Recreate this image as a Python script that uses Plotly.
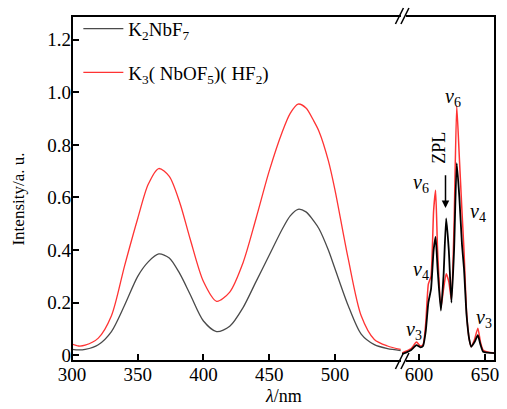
import plotly.graph_objects as go

# ---- data ----
nm_left = [300, 305, 310, 320, 330, 340, 350, 358, 366, 374, 382, 390, 400, 410, 420, 430,
           440, 450, 460, 466, 472, 478, 484, 488, 495, 500, 510, 520, 530, 540, 550]
k2nbf7_left = [0.022, 0.02, 0.022, 0.04, 0.09, 0.19, 0.30, 0.355, 0.385, 0.37, 0.31, 0.23, 0.13,
               0.09, 0.11, 0.18, 0.28, 0.38, 0.48, 0.53, 0.555, 0.545, 0.51, 0.48, 0.40, 0.33,
               0.19, 0.08, 0.04, 0.025, 0.018]
k3_left = [0.042, 0.035, 0.038, 0.065, 0.15, 0.34, 0.52, 0.65, 0.71, 0.68, 0.58, 0.44, 0.28,
           0.205, 0.24, 0.35, 0.52, 0.70, 0.85, 0.92, 0.955, 0.94, 0.89, 0.85, 0.74, 0.63,
           0.37, 0.15, 0.06, 0.035, 0.022]

nm_right = [587, 590, 594, 598, 601, 603, 605, 607, 609, 611, 612.5, 614, 616.5, 618.5, 620.5,
            622.5, 624.5, 626.5, 628.5, 630.5, 632.5, 634, 636, 638, 639.5, 642, 644.5, 646.5,
            648.5, 652, 657.5]
k2nbf7_right = [0.005, 0.01, 0.02, 0.038, 0.03, 0.035, 0.09, 0.2, 0.25, 0.4, 0.45, 0.33, 0.17,
                0.3, 0.52, 0.4, 0.2, 0.4, 0.73, 0.6, 0.42, 0.33, 0.15, 0.06, 0.032, 0.05,
                0.076, 0.04, 0.013, 0.01, 0.008]
k3_right = [0.008, 0.015, 0.025, 0.05, 0.035, 0.04, 0.12, 0.27, 0.3, 0.55, 0.627, 0.4, 0.18,
            0.25, 0.31, 0.28, 0.21, 0.5, 0.95, 0.75, 0.545, 0.4, 0.16, 0.06, 0.032, 0.06,
            0.103, 0.05, 0.02, 0.012, 0.008]

y_ticks = [0, 0.2, 0.4, 0.6, 0.8, 1.0, 1.2]
y_ticktext = ["0", "0.2", "0.4", "0.6", "0.8", "1.0", "1.2"]
x_ticks_left = [300, 350, 400, 450, 500]
x_ticks_right = [600, 650]

GRAY = "#4a4a4a"
RED = "#ff3333"
FONT = "Liberation Serif"

fig = go.Figure()
fig.add_trace(go.Scatter(x=nm_left, y=k2nbf7_left, mode="lines", line=dict(color=GRAY, width=1.3, shape="spline", smoothing=0.8),
                         name="K<sub>2</sub>NbF<sub>7</sub>", legendgroup="a", xaxis="x", yaxis="y"))
fig.add_trace(go.Scatter(x=nm_left, y=k3_left, mode="lines", line=dict(color=RED, width=1.3, shape="spline", smoothing=0.8),
                         name="K<sub>3</sub>( NbOF<sub>5</sub>)( HF<sub>2</sub>)", legendgroup="b", xaxis="x", yaxis="y"))
fig.add_trace(go.Scatter(x=nm_right, y=k3_right, mode="lines", line=dict(color=RED, width=1.5, shape="spline", smoothing=0.5),
                         showlegend=False, xaxis="x2", yaxis="y"))
fig.add_trace(go.Scatter(x=nm_right, y=k2nbf7_right, mode="lines", line=dict(color="#000000", width=1.8, shape="spline", smoothing=0.5),
                         showlegend=False, xaxis="x2", yaxis="y"))

split = 0.78
tickfont = dict(family=FONT, size=19, color="black")
fig.update_layout(
    width=507, height=409,
    margin=dict(l=72, r=8, t=16, b=48),
    paper_bgcolor="white", plot_bgcolor="white",
    showlegend=True,
    legend=dict(x=0.015, y=1.018, xanchor="left", yanchor="top", bgcolor="rgba(0,0,0,0)",
                font=dict(family=FONT, size=19, color="black"), tracegroupgap=16, itemwidth=40),
    xaxis=dict(domain=[0, split], range=[300, 551], tickvals=x_ticks_left, ticks="inside", ticklen=7,
               tickwidth=2, tickcolor="black", tickfont=tickfont, showgrid=False, zeroline=False,
               showline=False, anchor="y"),
    xaxis2=dict(domain=[split, 1], range=[587, 657.5], tickvals=x_ticks_right, ticks="inside", ticklen=7,
                tickwidth=2, tickcolor="black", tickfont=tickfont, showgrid=False, zeroline=False,
                showline=False, anchor="y"),
    yaxis=dict(range=[-0.022, 1.29], tickvals=y_ticks, ticktext=y_ticktext, ticks="inside", ticklen=7,
               tickwidth=2, tickcolor="black", tickfont=tickfont, showgrid=False, zeroline=False,
               showline=False, anchor="x"),
)

shapes = [dict(type="rect", xref="paper", yref="paper", x0=0, x1=1, y0=0, y1=1,
               line=dict(color="black", width=2), fillcolor="rgba(0,0,0,0)")]
for yanc in (0, 1):
    shapes.append(dict(type="rect", xref="paper", yref="paper", xsizemode="pixel", ysizemode="pixel",
                       xanchor=split, yanchor=yanc, x0=-1, x1=4, y0=-2, y1=2,
                       line=dict(width=0), fillcolor="white"))
    for dx in (-2.5, 3):
        shapes.append(dict(type="line", xref="paper", yref="paper", xsizemode="pixel", ysizemode="pixel",
                           xanchor=split, yanchor=yanc, x0=dx - 4, x1=dx + 4, y0=-8, y1=8,
                           line=dict(color="black", width=1.6)))
fig.update_layout(shapes=shapes)

nu_font = dict(family=FONT, size=20, color="black")
labels = [
    (596, 0.095, "<i>ν</i><sub>3</sub>"),
    (601.3, 0.323, "<i>ν</i><sub>4</sub>"),
    (601.3, 0.654, "<i>ν</i><sub>6</sub>"),
    (626, 0.98, "<i>ν</i><sub>6</sub>"),
    (644.6, 0.544, "<i>ν</i><sub>4</sub>"),
    (649.2, 0.14, "<i>ν</i><sub>3</sub>"),
]
ann = []
for x, y, t in labels:
    ann.append(dict(x=x, y=y, xref="x2", yref="y", text=t, showarrow=False, font=nu_font))
ann.append(dict(x=615.5, y=0.787, xref="x2", yref="y", text="ZPL", textangle=-90, showarrow=False,
                font=dict(family=FONT, size=18, color="black")))
ann.append(dict(x=620, y=0.56, xref="x2", yref="y", ax=620, ay=0.69, axref="x2", ayref="y", text="",
                showarrow=True, arrowhead=2, arrowsize=1, arrowwidth=1.5, arrowcolor="black"))
ann.append(dict(x=0.5, y=-0.1, xref="paper", yref="paper", yanchor="middle", text="<i>λ</i>/nm",
                showarrow=False, font=dict(family=FONT, size=18, color="black")))
ann.append(dict(x=-0.126, y=0.47, xref="paper", yref="paper", xanchor="center", yanchor="middle",
                text="Intensity/a. u.", textangle=-90, showarrow=False,
                font=dict(family=FONT, size=17, color="black")))
fig.update_layout(annotations=ann)

fig.write_html("out.html")
